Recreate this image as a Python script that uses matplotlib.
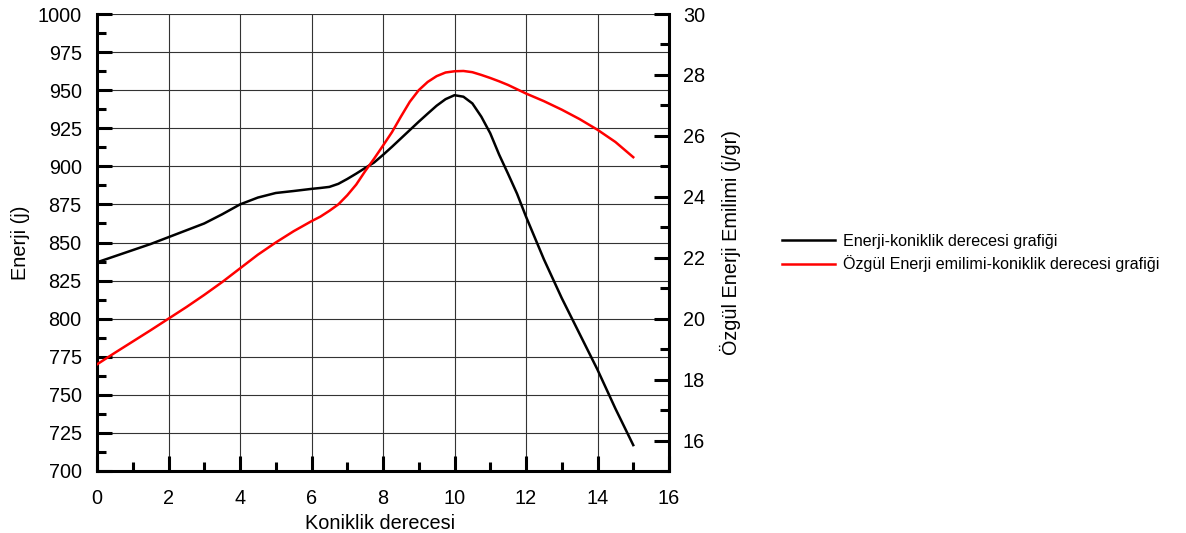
import numpy as np
import matplotlib
matplotlib.use("Agg")
import matplotlib.pyplot as plt
from matplotlib.ticker import MultipleLocator

plt.rcParams['font.family'] = ['Liberation Sans', 'DejaVu Sans']

# koniklik derecesi (grafikten okunan noktalar)
koniklik = [0, 0.5, 1, 1.5, 2, 2.5, 3, 3.5, 4, 4.5, 5, 5.5,
            6, 6.25, 6.5, 6.75, 7, 7.25, 7.5, 7.75, 8, 8.25, 8.5, 8.75,
            9, 9.25, 9.5, 9.75, 10, 10.25, 10.5, 10.75, 11, 11.25, 11.5, 11.75,
            12, 12.5, 13, 13.5, 14, 14.5, 15]

# enerji (j) - sol eksen
enerji = [837, 841, 845, 849, 853.5, 858, 862.5, 868.5, 875, 879.5, 882.5, 883.8,
          885.2, 885.8, 886.5, 888.5, 891.7, 895.2, 898.9, 902.5, 907.5, 912.8, 918.3, 923.8,
          929.3, 934.6, 939.8, 944.1, 946.7, 945.7, 941.3, 932.6, 921.7, 907.6, 895, 882,
          867, 839, 813.5, 790, 766.5, 741, 717]

# ozgul enerji emilimi (j/gr) - sag eksen
ozgul = [18.5, 18.88, 19.25, 19.62, 20.0, 20.38, 20.78, 21.2, 21.65, 22.1, 22.5, 22.87,
         23.2, 23.35, 23.54, 23.75, 24.05, 24.4, 24.84, 25.25, 25.68, 26.12, 26.63, 27.12,
         27.5, 27.77, 27.96, 28.08, 28.12, 28.13, 28.09, 28.0, 27.9, 27.79, 27.67, 27.53,
         27.39, 27.14, 26.86, 26.55, 26.2, 25.8, 25.3]

fig = plt.figure(figsize=(11.86, 5.33), dpi=100)
ax = fig.add_axes([97/1186, 1-471/533, 572/1186, 457/533])
ax2 = ax.twinx()

l1, = ax.plot(koniklik, enerji, color='black', lw=1.8, label='Enerji-koniklik derecesi grafiği', zorder=5)
l2, = ax2.plot(koniklik, ozgul, color='#ff0000', lw=1.8, label='Özgül Enerji emilimi-koniklik derecesi grafiği', zorder=5)

ax.set_xlim(0, 16)
ax.set_ylim(700, 1000)
ax2.set_ylim(15, 30)

ax.xaxis.set_major_locator(MultipleLocator(2))
ax.xaxis.set_minor_locator(MultipleLocator(1))
ax.yaxis.set_major_locator(MultipleLocator(25))
ax.yaxis.set_minor_locator(MultipleLocator(12.5))
ax2.set_yticks(np.arange(16, 31, 2))
ax2.yaxis.set_minor_locator(MultipleLocator(1))

ax.grid(True, which='major', color='#333333', lw=0.8)
ax.set_axisbelow(True)

for s in ['top', 'right']:
    ax.spines[s].set_visible(False)
for s in ['top', 'left', 'bottom']:
    ax2.spines[s].set_visible(False)
for s in ['left', 'bottom']:
    ax.spines[s].set_linewidth(2.2)
ax2.spines['right'].set_linewidth(2.2)

fs = 14.3
ax.tick_params(axis='both', which='major', direction='in', length=11, width=2.2, labelsize=fs)
ax.tick_params(axis='both', which='minor', direction='in', length=6.5, width=2.2)
ax.tick_params(axis='y', which='major', pad=11)
ax.tick_params(axis='x', which='major', pad=13)
ax.tick_params(top=False, right=False, which='both')
ax2.tick_params(axis='y', which='major', direction='in', length=11, width=2.2, labelsize=fs, pad=10)
ax2.tick_params(axis='y', which='minor', direction='in', length=6.5, width=2.2)

ax.set_xlabel('Koniklik derecesi', fontsize=fs)
ax.set_ylabel('Enerji (j)', fontsize=fs)
ax2.set_ylabel('Özgül Enerji Emilimi (j/gr)', fontsize=fs)
ax.xaxis.set_label_coords(0.495, -0.094)
ax.yaxis.set_label_coords(-0.118, 0.5)
ax2.yaxis.set_label_coords(1.089, 0.5)

fig.legend([l1, l2], [l1.get_label(), l2.get_label()], loc='center left',
           bbox_to_anchor=(782/1186, 1-253/533), frameon=False, fontsize=11.6,
           handlelength=3.3, handletextpad=0.5, labelspacing=0.42, borderpad=0, borderaxespad=0)

plt.savefig('out.png', dpi=100)
